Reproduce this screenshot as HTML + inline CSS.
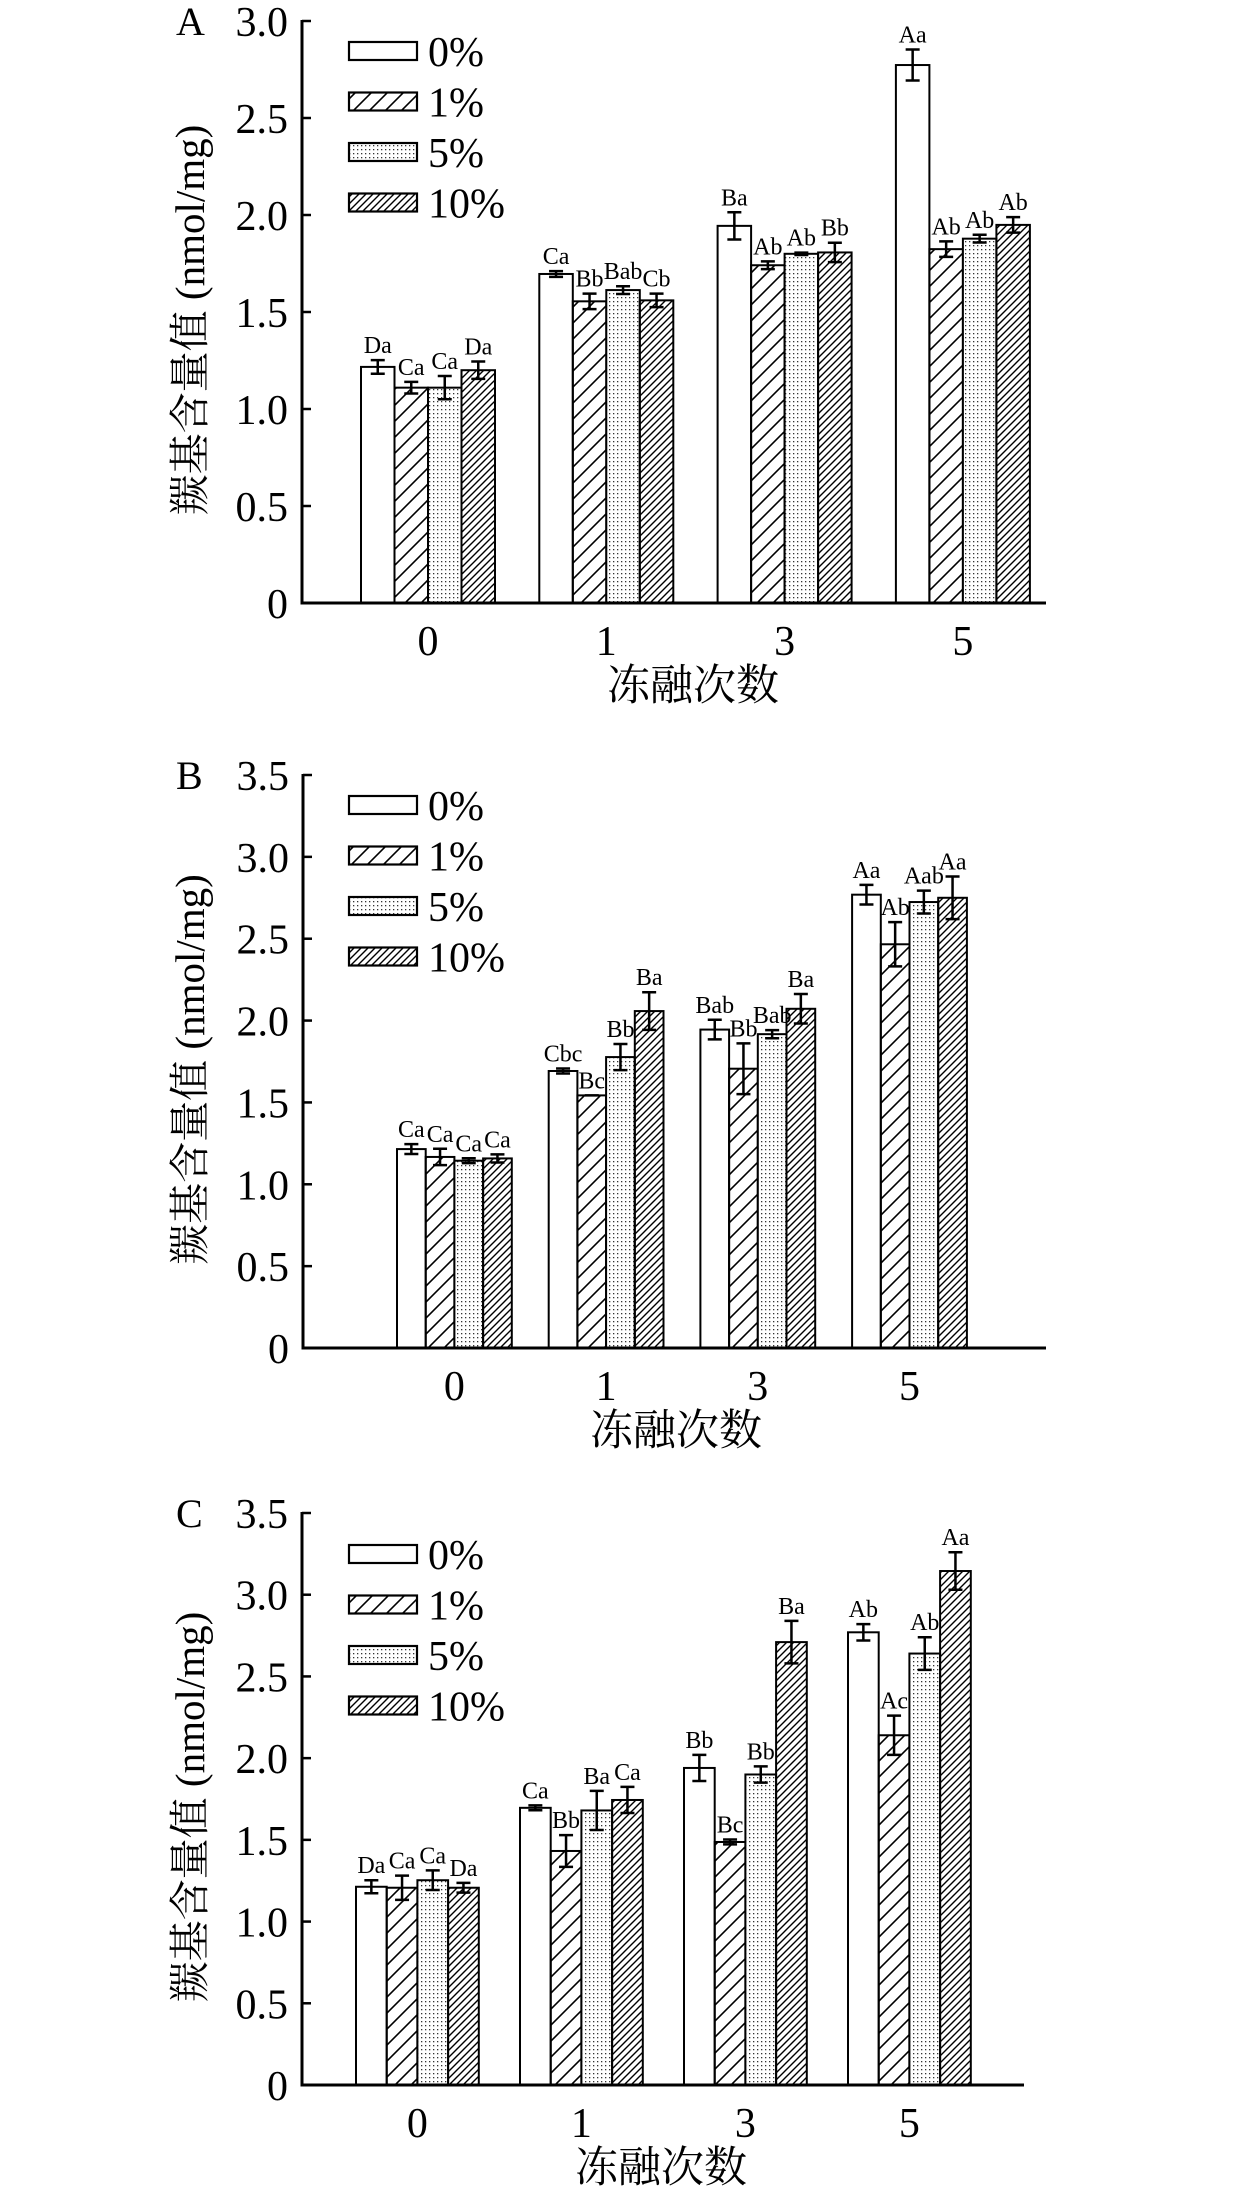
<!DOCTYPE html>
<html><head><meta charset="utf-8">
<style>
html,body{margin:0;padding:0;background:#fff;}
svg{display:block;font-family:"Liberation Serif","Noto Serif CJK SC",serif;}
svg text{font-family:"Liberation Serif","Noto Serif CJK SC",serif;}
</style></head>
<body>
<svg id="fig" width="1260" height="2205" viewBox="0 0 1260 2205" xmlns="http://www.w3.org/2000/svg">
<defs>
<pattern id="hatchSparse" patternUnits="userSpaceOnUse" width="16" height="16"><path d="M-4,4 L4,-4 M0,16 L16,0 M12,20 L20,12" stroke="#000" stroke-width="1.6"/></pattern>
<pattern id="hatchDense" patternUnits="userSpaceOnUse" width="7" height="7"><path d="M-2,2 L2,-2 M0,7 L7,0 M5,9 L9,5" stroke="#000" stroke-width="1.4"/></pattern>
<pattern id="dots" patternUnits="userSpaceOnUse" width="4" height="4"><rect width="4" height="4" fill="#fff"/><rect x="1" y="1" width="1.3" height="1.3" fill="#333"/></pattern>
</defs>
</svg>
<script>
const categories = ["0","1","3","5"];
const seriesNames = ["0%","1%","5%","10%"];
const yTicksA = ["0","0.5","1.0","1.5","2.0","2.5","3.0"];
const yTicksBC = ["0","0.5","1.0","1.5","2.0","2.5","3.0","3.5"];

const valsA0 = [1.217,1.696,1.944,2.773];
const valsA1 = [1.11,1.555,1.741,1.824];
const valsA5 = [1.11,1.613,1.80,1.878];
const valsA10 = [1.20,1.56,1.807,1.949];
const errA0 = [0.035,0.015,0.07,0.08];
const errA1 = [0.03,0.04,0.02,0.04];
const errA5 = [0.06,0.02,0.006,0.02];
const errA10 = [0.045,0.035,0.05,0.04];
const lblA0 = ["Da","Ca","Ba","Aa"];
const lblA1 = ["Ca","Bb","Ab","Ab"];
const lblA5 = ["Ca","Bab","Ab","Ab"];
const lblA10 = ["Da","Cb","Bb","Ab"];

const valsB0 = [1.215,1.692,1.945,2.769];
const valsB1 = [1.167,1.543,1.706,2.466];
const valsB5 = [1.144,1.777,1.917,2.724];
const valsB10 = [1.158,2.058,2.072,2.75];
const errB0 = [0.03,0.015,0.06,0.06];
const errB1 = [0.05,0.0,0.155,0.135];
const errB5 = [0.015,0.08,0.025,0.07];
const errB10 = [0.025,0.115,0.09,0.13];
const lblB0 = ["Ca","Cbc","Bab","Aa"];
const lblB1 = ["Ca","Bc","Bb","Ab"];
const lblB5 = ["Ca","Bb","Bab","Aab"];
const lblB10 = ["Ca","Ba","Ba","Aa"];

const valsC0 = [1.213,1.696,1.94,2.77];
const valsC1 = [1.207,1.432,1.487,2.14];
const valsC5 = [1.253,1.68,1.9,2.64];
const valsC10 = [1.207,1.744,2.71,3.145];
const errC0 = [0.04,0.015,0.08,0.05];
const errC1 = [0.074,0.097,0.015,0.12];
const errC5 = [0.06,0.12,0.05,0.1];
const errC10 = [0.03,0.08,0.13,0.115];
const lblC0 = ["Da","Ca","Bb","Ab"];
const lblC1 = ["Ca","Bb","Bc","Ac"];
const lblC5 = ["Ca","Ba","Bb","Ab"];
const lblC10 = ["Da","Ca","Ba","Aa"];

const NS = "http://www.w3.org/2000/svg";
const svg = document.getElementById('fig');
const fills = ["#fff","url(#hatchSparse)","url(#dots)","url(#hatchDense)"];

function mk(tag, attrs, parent){
  const e = document.createElementNS(NS, tag);
  for (const k in attrs) e.setAttribute(k, attrs[k]);
  parent.appendChild(e);
  return e;
}

function drawPanel(p){
  const g = mk('g', {}, svg);
  
  
  const ymax = p.ticks.length - 1;
  const yScale = v => p.y0 - (v / (ymax * 0.5)) * (p.y0 - p.yTop);
  const xBand = (i, s) => p.firstLeft + i * p.step + s * p.barW;

  for (let s = 0; s < 4; s++){
    for (let i = 0; i < categories.length; i++){
      const v = p.vals[s][i], e = p.errs[s][i];
      const x = xBand(i, s), y = yScale(v);
      const r = mk('rect', {x:x, y:y, width:p.barW, height:p.y0 - y, fill:fills[s], stroke:'#000', 'stroke-width':2}, g);
      
      
      const cx = x + p.barW/2, yt = yScale(v + e), yb = yScale(v - e);
      const eb = mk('path', {d:`M${cx},${yt} L${cx},${yb} M${cx-7},${yt} L${cx+7},${yt} M${cx-7},${yb} L${cx+7},${yb}`, stroke:'#000', 'stroke-width':2.5, fill:'none'}, g);
      
      
      const t = mk('text', {x:cx, y:yt - 7, 'font-size':24, 'text-anchor':'middle'}, g);
      t.textContent = p.lbls[s][i];
      
      
    }
  }
  const ax = mk('path', {d:`M${p.x0},${p.yTop-1} L${p.x0},${p.y0} L${p.xEnd},${p.y0}`, stroke:'#000', 'stroke-width':3, fill:'none'}, g);
  
  
  for (let k = 0; k < p.ticks.length; k++){
    const y = yScale(k * 0.5);
    const tk = mk('line', {x1:p.x0, x2:p.x0 + 9, y1:y, y2:y, stroke:'#000', 'stroke-width':2.5}, g);
    
    
    const tl = mk('text', {x:p.x0 - 14, y:y + 15, 'font-size':42, 'text-anchor':'end'}, g);
    tl.textContent = p.ticks[k];
    
    
  }
  for (let i = 0; i < categories.length; i++){
    const cx = xBand(i, 2);
    const tl = mk('text', {x:cx, y:p.y0 + 52, 'font-size':42, 'text-anchor':'middle'}, g);
    tl.textContent = categories[i];
    
    
  }
  const xt = mk('text', {x:p.xTitleX, y:p.y0 + 97, 'font-size':43, 'text-anchor':'middle'}, g);
  xt.textContent = '冻融次数';
  
  
  const yc = (p.yTop + p.y0) / 2 + 8;
  const yt = mk('text', {x:0, y:0, 'font-size':41, 'text-anchor':'middle', transform:`translate(204,${yc}) rotate(-90)`}, g);
  yt.textContent = '羰基含量值 (nmol/mg)';
  
  
  const pl = mk('text', {x:176, y:p.yTop + 14, 'font-size':40}, g);
  pl.textContent = p.key;
  
  
  for (let s = 0; s < 4; s++){
    const cy = p.legY + s * 50.5;
    const lr = mk('rect', {x:349, y:cy - 9, width:68, height:18, fill:fills[s], stroke:'#000', 'stroke-width':2.2}, g);
    
    
    const lt = mk('text', {x:428, y:cy + 15, 'font-size':42}, g);
    lt.textContent = seriesNames[s];
    
    
  }
}

drawPanel({key:'A', ticks:yTicksA, x0:302, xEnd:1046, yTop:21, y0:603, firstLeft:361, step:178.3, barW:33.5, legY:51, xTitleX:693,
  vals:[valsA0,valsA1,valsA5,valsA10], errs:[errA0,errA1,errA5,errA10], lbls:[lblA0,lblA1,lblA5,lblA10]});
drawPanel({key:'B', ticks:yTicksBC, x0:303, xEnd:1046, yTop:775, y0:1348, firstLeft:397, step:151.7, barW:28.7, legY:805, xTitleX:676,
  vals:[valsB0,valsB1,valsB5,valsB10], errs:[errB0,errB1,errB5,errB10], lbls:[lblB0,lblB1,lblB5,lblB10]});
drawPanel({key:'C', ticks:yTicksBC, x0:302, xEnd:1024, yTop:1513, y0:2085, firstLeft:356, step:164, barW:30.7, legY:1554, xTitleX:661,
  vals:[valsC0,valsC1,valsC5,valsC10], errs:[errC0,errC1,errC5,errC10], lbls:[lblC0,lblC1,lblC5,lblC10]});
</script>
</body></html>
